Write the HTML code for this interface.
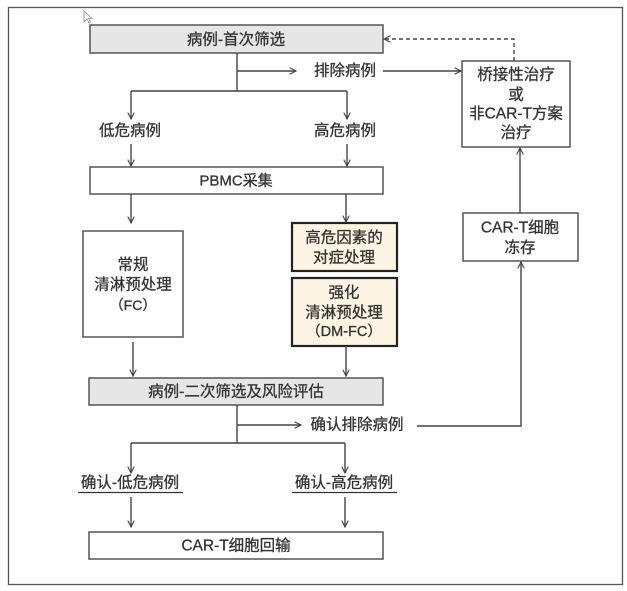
<!DOCTYPE html>
<html><head><meta charset="utf-8"><style>
html,body{margin:0;padding:0;background:#fff;}
svg{display:block;}
text{font-family:"Liberation Sans","Noto Sans CJK SC",sans-serif;font-size:15.5px;fill:#333;stroke:#333;stroke-width:0.3px;text-anchor:middle;dominant-baseline:central;}
</style></head><body>
<svg width="627" height="591" viewBox="0 0 627 591" xmlns="http://www.w3.org/2000/svg">
<defs>
<marker id="a" viewBox="0 0 10 10" refX="9" refY="5" markerWidth="8" markerHeight="8" orient="auto" markerUnits="userSpaceOnUse">
<path d="M1,1 L9,5 L1,9" fill="none" stroke="#444" stroke-width="1.4"/>
</marker>
</defs>
<rect x="0" y="0" width="627" height="591" fill="#fff"/>
<rect x="8.5" y="7.5" width="614" height="577" fill="#fff" stroke="#555" stroke-width="1.3"/>
<!-- cursor -->
<path d="M84,11 L84,22 L87,19 L89,23 L90.5,22.3 L88.5,18.5 L92,18.5 Z" fill="#fff" stroke="#888" stroke-width="0.8"/>

<g stroke="#555" stroke-width="1.5" fill="none">
<rect x="90" y="25" width="293" height="28" fill="#e6e6e6"/>
<rect x="90" y="167" width="293" height="27" fill="#fff"/>
<rect x="462" y="61" width="108" height="86" fill="#fff"/>
<rect x="463" y="213" width="115" height="48" fill="#fff"/>
<rect x="83" y="231" width="100" height="106" fill="#fff"/>
<rect x="89" y="378" width="294" height="27" fill="#e6e6e6"/>
<rect x="89" y="532" width="294" height="27" fill="#fff"/>
</g>
<g stroke="#222" stroke-width="2.2" fill="#fdf4e3">
<rect x="292" y="223" width="105" height="48"/>
<rect x="292" y="278" width="105" height="68"/>
</g>

<g stroke="#444" stroke-width="1.4" fill="none">
<path d="M237,53 V91"/>
<path d="M237,71 H296" marker-end="url(#a)"/>
<path d="M383,71 H461" marker-end="url(#a)"/>
<path d="M131,91 H347"/>
<path d="M131,91 V119" marker-end="url(#a)"/>
<path d="M347,91 V119" marker-end="url(#a)"/>
<path d="M131,144 V166" marker-end="url(#a)"/>
<path d="M347,144 V166" marker-end="url(#a)"/>
<path d="M514,61 V39 H384" stroke-dasharray="4,3" marker-end="url(#a)"/>
<path d="M520,213 V148" marker-end="url(#a)"/>
<path d="M131,194 V223" marker-end="url(#a)"/>
<path d="M346,194 V222" marker-end="url(#a)"/>
<path d="M133,342 V376" marker-end="url(#a)"/>
<path d="M346,346 V376" marker-end="url(#a)"/>
<path d="M237,405 V443"/>
<path d="M237,425 H301" marker-end="url(#a)"/>
<path d="M417,426 H521 V262" marker-end="url(#a)"/>
<path d="M131,443 H345"/>
<path d="M131,443 V473" marker-end="url(#a)"/>
<path d="M345,443 V473" marker-end="url(#a)"/>
<path d="M131,497 V527" marker-end="url(#a)"/>
<path d="M345,497 V527" marker-end="url(#a)"/>
<path d="M78,492.5 H183" stroke="#333" stroke-width="1.2"/>
<path d="M292,492.5 H397" stroke="#333" stroke-width="1.2"/>
</g>

<text x="236" y="40">病例-首次筛选</text>
<text x="345" y="71">排除病例</text>
<text x="130" y="131">低危病例</text>
<text x="345" y="131">高危病例</text>
<text x="236" y="181" style="font-size:15px">PBMC采集</text>
<text x="516" y="75">桥接性治疗</text>
<text x="516" y="95">或</text>
<text x="516" y="114">非CAR-T方案</text>
<text x="516" y="133">治疗</text>
<text x="520" y="228">CAR-T细胞</text>
<text x="520" y="248">冻存</text>
<text x="133" y="265">常规</text>
<text x="133" y="285">清淋预处理</text>
<text x="133" y="305" style="font-size:14px">（FC）</text>
<text x="344" y="238">高危因素的</text>
<text x="344" y="258">对症处理</text>
<text x="344" y="293">强化</text>
<text x="344" y="313">清淋预处理</text>
<text x="344" y="332" style="font-size:14.5px">（DM-FC）</text>
<text x="236" y="392">病例-二次筛选及风险评估</text>
<text x="357" y="425">确认排除病例</text>
<text x="130" y="483">确认-低危病例</text>
<text x="344" y="483">确认-高危病例</text>
<text x="236" y="546">CAR-T细胞回输</text>
</svg>
</body></html>
